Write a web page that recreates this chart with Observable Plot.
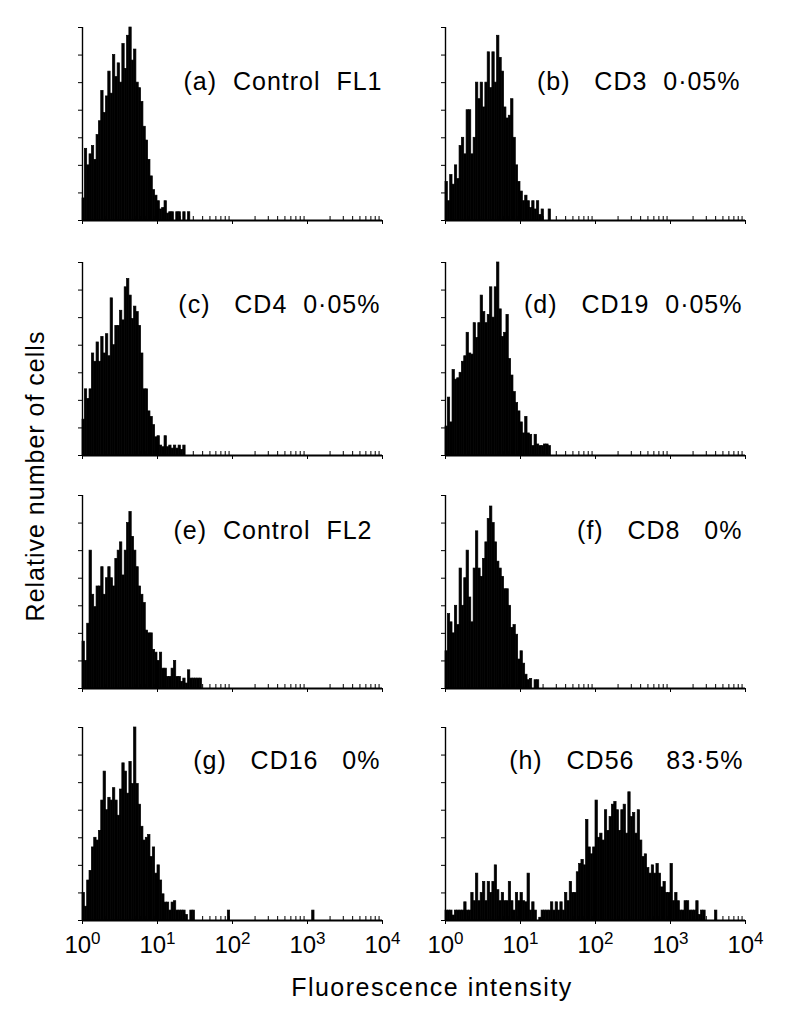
<!DOCTYPE html>
<html><head><meta charset="utf-8">
<script src="https://cdn.jsdelivr.net/npm/d3@7"></script>
<script src="https://cdn.jsdelivr.net/npm/@observablehq/plot@0.6"></script>
<style>
html,body{margin:0;padding:0;background:#fff;}
#fig{position:relative;width:797px;height:1020px;overflow:hidden;font-family:'Liberation Sans',Arial,Helvetica,sans-serif;color:#000;background:#fff;}
#fig svg{position:absolute;overflow:visible;}
.lab{position:absolute;font-size:25px;line-height:25px;white-space:nowrap;color:#000;}
</style></head><body><div id="fig"></div>
<script>
// ---- data (relative cell counts per channel, 32 channels per decade, starting at 10^0) ----
const panelIds = ["a","b","c","d","e","f","g","h"];
const panelLabels = ["(a)  Control  FL1","(b)   CD3  0·05%","(c)   CD4  0·05%","(d)   CD19  0·05%",
                     "(e)  Control  FL2","(f)   CD8   0%","(g)   CD16   0%","(h)   CD56    83·5%"];
const countsA = [0.8,2.6,2.0,2.4,2.7,2.2,3.1,3.6,4.7,3.9,4.5,5.4,4.6,6.0,5.2,5.7,5.0,6.4,5.5,6.7,7.0,5.8,6.2,5.0,4.8,4.3,3.4,2.9,2.2,1.6,1.1,0.9,0.7,0.4,0.45,0.7,0.25,0.3,0.3,0,0.3,0.3,0,0.3,0,0.3];
const countsB = [1.4,0.7,1.65,1.3,2.0,1.5,2.7,3.0,2.4,4.0,4.0,2.4,3.0,5.0,4.4,5.0,4.1,5.0,6.1,4.8,6.1,5.0,6.7,5.9,5.4,4.1,3.7,3.8,4.4,3.0,2.0,1.4,1.05,0.7,0.9,0.7,0.45,0.7,0.4,0.7,0.2,0.4,0,0,0.4];
const countsC = [1.3,2.4,2.05,2.4,3.7,3.4,4.1,3.4,4.3,3.7,4.4,3.6,5.7,4.0,4.7,4.7,5.25,4.9,6.1,6.4,5.8,4.95,5.4,5.2,4.7,3.7,2.4,2.4,1.6,1.4,1.1,0.66,0.7,0.36,0.3,0.7,0.3,0.36,0.25,0.36,0.25,0.36,0.2,0.36];
const countsD = [1.05,2.1,1.2,3.1,2.75,2.8,3.0,3.4,3.6,4.45,3.7,3.66,4.8,4.26,4.8,5.8,5.2,4.8,5.1,6.1,5.0,6.1,7.0,5.3,4.3,4.45,5.1,3.5,2.9,2.3,1.9,1.6,1.2,0.8,1.4,0.8,0.75,0.34,0.75,0.4,0.34,0.34,0.4,0.4,0.34];
const countsE = [1.7,1.0,2.35,5.0,3.4,2.95,3.7,3.7,4.4,3.4,4.0,4.4,4.0,3.7,4.7,5.0,5.3,4.1,5.0,6.0,6.4,5.5,5.0,4.4,3.7,3.4,3.1,2.1,2.0,2.0,1.4,1.3,1.0,1.3,0.72,0.72,0.42,0.42,0.72,1.0,0.42,0.42,0.24,0.36,0.18,0.66,0.36,0.36,0.36,0.36,0.36];
const countsF = [1.35,2.7,2.4,2.0,3.0,2.3,4.35,3.0,4.0,5.0,3.3,2.4,4.35,5.7,4.35,4.05,4.7,5.3,6.15,6.6,6.0,5.3,4.6,4.35,4.05,3.6,3.6,3.0,2.2,2.3,1.95,1.05,1.35,0.9,0.5,0.3,0.35,0,0.3,0.3];
const countsG = [1.0,0.5,1.45,1.8,2.65,3.0,2.9,3.25,4.35,5.4,4.0,4.45,4.35,4.8,4.35,3.8,4.75,5.7,5.4,4.6,5.75,4.95,7.0,4.95,4.2,3.4,2.9,3.0,3.1,2.3,2.65,1.7,2.0,1.45,0.95,0.65,0.65,0.36,0.65,0.7,0.36,0.36,0.36,0.36,0.2,0,0.36,0.36,
  0,0,0,0,0,0,0,0,0,0,0,0,0,0,0.36,
  0,0,0,0,0,0,0,0,0,0,0,0,0,0,0,0,0,0,0,0,0,0,0,0,0,0,0,0,0,0,0,0,0,0,0,0.36];
const countsH = [0.36,0.36,0.36,0.18,0.36,0.36,0.36,0.36,0.66,0.36,0.36,1.0,0.7,1.7,0.7,1.0,1.4,0.7,1.4,1.0,
  1.4,2.0,1.1,0.7,1.0,0.7,0.7,1.4,0.7,0.36,1.0,0.7,1.0,0.7,0.66,1.7,0.36,0.66,0.36,0,
  0.1,0.36,0.36,0.36,0.36,0.66,0.36,0.66,0.36,0.66,0.36,1.0,0.7,1.4,1.0,1.0,1.75,2.05,2.2,2.0,
  3.65,2.65,2.4,2.65,4.35,3.0,3.15,2.9,4.0,3.25,3.75,4.2,4.3,4.0,3.25,4.0,4.2,3.15,4.65,3.75,
  3.9,3.15,4.0,2.9,2.3,2.4,1.9,1.7,2.0,1.7,2.05,1.7,1.2,1.4,1.0,1.0,2.05,0.7,1.0,0.7,
  0.36,0.36,0.7,0.7,0.36,0.36,0.36,0.7,0.2,0.36,0.36,0,0,0,0,0.36];
const allCounts = [countsA,countsB,countsC,countsD,countsE,countsF,countsG,countsH];
const CHANNELS_PER_DECADE = 32;
const xDomain = [1, 10000];
const yDomain = [0, 7];
const yTicks = [0,1,2,3,4,5,6,7];
const xTickValues = [1, 10, 100, 1000, 10000];
const xTickExponents = ["0","1","2","3","4"];
const xMinorTicks = [1,10,100,1000].flatMap(d => [2,3,4,5,6,7,8,9].map(m => m * d));
const xLabel = "Fluorescence intensity";
const yLabel = "Relative number of cells";

// ---- layout ----
const colFrameLeft = [82, 445];
const rowFrameTop = [27, 262, 495, 727];
const frameW = 300, frameH = 193;
const mL = 42, mR = 18, mT = 8;
const labelDy = [45, 33, 26, 24];
const labelDx = [0, -5, -2, -3, -10, -3, -2, -2];

const fig = document.getElementById("fig");
const font = "'Liberation Sans', Arial, Helvetica, sans-serif";

panelIds.forEach((id, p) => {
  const col = p % 2, row = Math.floor(p / 2);
  const bottom = row === 3;
  const mB = bottom ? 60 : 10;
  const data = allCounts[p].map((v, i) => ({
    x1: 10 ** (i / CHANNELS_PER_DECADE),
    x2: 10 ** ((i + 1) / CHANNELS_PER_DECADE),
    v
  })).filter(d => d.v > 0);
  const svg = Plot.plot({
    width: mL + frameW + mR,
    height: mT + frameH + mB,
    marginLeft: mL, marginRight: mR, marginTop: mT, marginBottom: mB,
    style: {fontFamily: font, background: "transparent", color: "#000"},
    x: {type: "log", domain: xDomain},
    y: {domain: yDomain},
    marks: [
      Plot.rect(data, {x1: "x1", x2: "x2", y1: 0, y2: "v", fill: "#000", stroke: "#000", strokeWidth: 0.7}),
      Plot.ruleY(yDomain.slice(0, 1), {stroke: "#000", strokeWidth: 2}),
      Plot.ruleX(xDomain.slice(0, 1), {stroke: "#000", strokeWidth: 1.4}),
      Plot.axisY({ticks: yTicks, tickSize: 4, fill: "none", stroke: "#000", label: null}),
      Plot.axisX({ticks: xMinorTicks, tickSize: -4, fill: "none", stroke: "#000", label: null}),
      Plot.axisX({
        ticks: xTickValues, tickSize: 4, tickPadding: 11,
        tickFormat: d => "10^" + xTickExponents[xTickValues.indexOf(d)],
        fill: bottom ? "#000" : "none", stroke: "#000", fontSize: 24, label: null
      }),
      Plot.text([panelLabels[p].replace(/ /g, "\u00a0")], {
        text: d => d, frameAnchor: "top-right", textAnchor: "end",
        dy: labelDy[row], dx: labelDx[p], fontSize: 25, fill: "#000"
      })
    ]
  });
  svg.style.left = (colFrameLeft[col] - mL) + "px";
  svg.style.top = (rowFrameTop[row] - mT) + "px";
  svg.querySelectorAll("text").forEach(t => t.style.letterSpacing = "1px");
  // superscripts on decade tick labels
  svg.querySelectorAll('g[aria-label="x-axis tick label"] text').forEach(t => {
    const s = t.textContent;
    if (!s.includes("^")) return;
    const [base, exp] = s.split("^");
    t.textContent = "";
    const ns = "http://www.w3.org/2000/svg";
    const b = document.createElementNS(ns, "tspan"); b.textContent = base;
    const e = document.createElementNS(ns, "tspan"); e.textContent = exp;
    e.setAttribute("dy", "-0.5em"); e.setAttribute("font-size", "17");
    t.append(b, e);
    t.style.letterSpacing = "0px";
  });
  fig.appendChild(svg);
});

const yl = document.createElement("div");
yl.className = "lab"; yl.textContent = yLabel;
yl.style.left = "35px"; yl.style.top = "476px"; yl.style.letterSpacing = "1px";
yl.style.transform = "translate(-50%,-50%) rotate(-90deg)";
fig.appendChild(yl);

const xl = document.createElement("div");
xl.className = "lab"; xl.textContent = xLabel;
xl.style.left = "432px"; xl.style.top = "975px"; xl.style.letterSpacing = "1.5px";
xl.style.transform = "translateX(-50%)";
fig.appendChild(xl);
</script></body></html>
